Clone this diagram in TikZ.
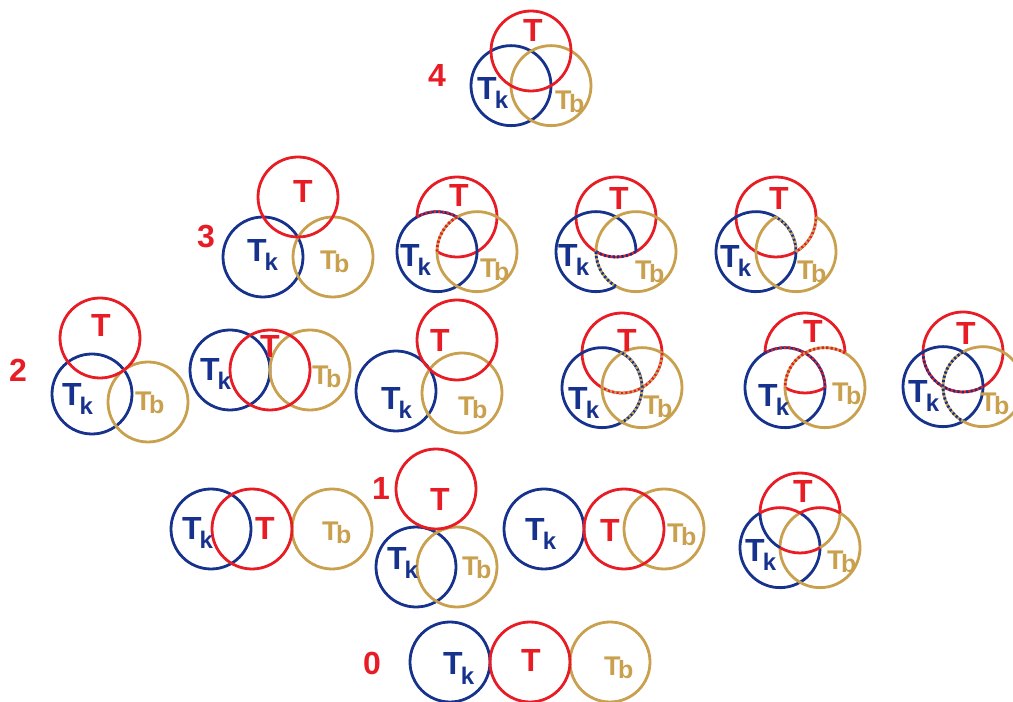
\documentclass[tikz,border=0pt]{standalone}
\usepackage{fontspec}
\setmainfont{Liberation Sans}
\definecolor{tred}{RGB}{232,28,36}
\definecolor{tblue}{RGB}{22,50,140}
\definecolor{tgold}{RGB}{200,160,78}
\newcommand{\rr}{40}
\newcommand{\labT}{T}
\newcommand{\labK}{T\kern-2pt\raisebox{-9pt}{\fontsize{24}{24}\selectfont k}}
\newcommand{\labB}{{\fontsize{27}{27}\selectfont T\kern-2.5pt\raisebox{-3pt}{\fontsize{25}{25}\selectfont b}}}
% arc round centre #1 from angle #2 to #3
\newcommand{\carc}[4]{\draw[ring,#4] ([shift={(#2:\rr)}]#1) arc[start angle=#2, end angle=#3, radius=\rr];}
% two-coloured dotted arc
\newcommand{\darc}[5]{\carc{#1}{#2}{#3}{#4}\carc{#1}{#2}{#3}{#5,dash pattern=on 2.2pt off 2.2pt}}
% three circles whose centres are \rr apart
\newcommand{\triple}[3]{\coordinate (#1t) at (#2,#3);
  \coordinate (#1k) at ([shift={(240:\rr)}]#1t);
  \coordinate (#1b) at ([shift={(300:\rr)}]#1t);}
\tikzset{
  ring/.style={line width=2.8pt},
  lab/.style={inner sep=0pt, font=\fontsize{32}{32}\selectfont\bfseries},
  labt/.style={lab, text=tred, anchor=south},
  labk/.style={lab, text=tblue, anchor=base west},
  labb/.style={lab, text=tgold, anchor=base west},
  count/.style={lab, text=tred},
}
\begin{document}
\begin{tikzpicture}[x=1pt, y=1pt]
	\useasboundingbox (0,0) rectangle (1013,702);
	% level 4
	\triple{d4}{531}{651}
	\draw[ring,tblue] (d4k) circle[radius=\rr];
	\draw[ring,tgold] (d4b) circle[radius=\rr];
	\draw[ring,tred] (d4t) circle[radius=\rr];
	\node[count] (n4) at (437,627) {4};
	\node[labt] (d4tl) at (533,660) {\labT};
	\node[labk] (d4kl) at (477,602) {\labK};
	\node[labb] (d4bl) at (555,592) {\labB};
	% level 3
	\node[count] (n3) at (206,465) {3};
	\coordinate (d3at) at (298,505);
	\coordinate (d3ak) at (263,445);
	\coordinate (d3ab) at (333,445);
	\draw[ring,tblue] (d3ak) circle[radius=\rr];
	\draw[ring,tgold] (d3ab) circle[radius=\rr];
	\draw[ring,tred] (d3at) circle[radius=\rr];
	\node[labt] (d3atl) at (303,499) {\labT};
	\node[labk] (d3akl) at (247,440) {\labK};
	\node[labb] (d3abl) at (320,432) {\labB};

	\triple{d3b}{457}{485}
	\carc{d3bt}{0}{180}{tred}
	\carc{d3bt}{240}{360}{tred}
	\carc{d3bk}{120}{300}{tblue}
	\carc{d3bk}{-60}{60}{tblue}
	\carc{d3bb}{180}{480}{tgold}
	\darc{d3bk}{60}{120}{tblue}{tred}
	\darc{d3bb}{120}{180}{tgold}{tred}
	\node[labt] (d3btl) at (459,495) {\labT};
	\node[labk] (d3bkl) at (400,435) {\labK};
	\node[labb] (d3bbl) at (480,424) {\labB};

	\triple{d3c}{616}{485}
	\carc{d3ct}{-60}{240}{tred}
	\carc{d3ck}{0}{300}{tblue}
	\carc{d3cb}{240}{540}{tgold}
	\darc{d3ct}{240}{300}{tred}{tblue}
	\darc{d3cb}{180}{240}{tgold}{tblue}
	\node[labt] (d3ctl) at (619,492) {\labT};
	\node[labk] (d3ckl) at (558,435) {\labK};
	\node[labb] (d3cbl) at (635,422) {\labB};

	\triple{d3d}{776}{485}
	\carc{d3dt}{0}{300}{tred}
	\carc{d3dk}{60}{360}{tblue}
	\carc{d3db}{120}{420}{tgold}
	\darc{d3dk}{0}{60}{tblue}{tgold}
	\darc{d3dt}{300}{360}{tred}{tgold}
	\node[labt] (d3dtl) at (779,492) {\labT};
	\node[labk] (d3dkl) at (720,434) {\labK};
	\node[labb] (d3dbl) at (797,422) {\labB};
	% level 2
	\node[count] (n2) at (18,332) {2};
	\coordinate (d2at) at (100,364);
	\coordinate (d2ak) at (92,308);
	\coordinate (d2ab) at (148,300);
	\draw[ring,tblue] (d2ak) circle[radius=\rr];
	\draw[ring,tgold] (d2ab) circle[radius=\rr];
	\draw[ring,tred] (d2at) circle[radius=\rr];
	\node[labt] (d2atl) at (101,365) {\labT};
	\node[labk] (d2akl) at (62,296) {\labK};
	\node[labb] (d2abl) at (135,291) {\labB};

	\coordinate (d2bk) at (230,332);
	\coordinate (d2bt) at (270,332);
	\coordinate (d2bb) at (310,332);
	\draw[ring,tblue] (d2bk) circle[radius=\rr];
	\draw[ring,tgold] (d2bb) circle[radius=\rr];
	\draw[ring,tred] (d2bt) circle[radius=\rr];
	\node[labt] (d2btl) at (270,344) {\labT};
	\node[labk] (d2bkl) at (200,321) {\labK};
	\node[labb] (d2bbl) at (312,317) {\labB};

	\coordinate (d2ct) at (457,362);
	\coordinate (d2ck) at (396,311);
	\coordinate (d2cb) at (462,309);
	\draw[ring,tblue] (d2ck) circle[radius=\rr];
	\draw[ring,tgold] (d2cb) circle[radius=\rr];
	\draw[ring,tred] (d2ct) circle[radius=\rr];
	\node[labt] (d2ctl) at (440,350) {\labT};
	\node[labk] (d2ckl) at (381,292) {\labK};
	\node[labb] (d2cbl) at (458,286) {\labB};

	\triple{d2d}{622}{349}
	\carc{d2dt}{0}{240}{tred}
	\carc{d2dk}{60}{300}{tblue}
	\draw[ring,tgold] (d2db) circle[radius=\rr];
	\darc{d2dt}{240}{360}{tred}{tgold}
	\darc{d2dk}{-60}{60}{tblue}{tgold}
	\node[labt] (d2dtl) at (627,350) {\labT};
	\node[labk] (d2dkl) at (568,292) {\labK};
	\node[labb] (d2dbl) at (643,287) {\labB};

	\triple{d2e}{805}{349}
	\carc{d2et}{0}{180}{tred}
	\carc{d2et}{240}{300}{tred}
	\carc{d2ek}{120}{360}{tblue}
	\carc{d2eb}{180}{420}{tgold}
	\darc{d2ek}{0}{120}{tblue}{tred}
	\darc{d2eb}{60}{180}{tgold}{tred}
	\node[labt] (d2etl) at (813,359) {\labT};
	\node[labk] (d2ekl) at (758,295) {\labK};
	\node[labb] (d2ebl) at (832,300) {\labB};

	\triple{d2f}{963}{350}
	\carc{d2ft}{-60}{180}{tred}
	\draw[ring,tblue] (d2fk) circle[radius=\rr];
	\carc{d2fb}{240}{480}{tgold}
	\darc{d2ft}{180}{300}{tred}{tblue}
	\darc{d2fb}{120}{240}{tgold}{tblue}
	\node[labt] (d2ftl) at (966,357) {\labT};
	\node[labk] (d2fkl) at (908,299) {\labK};
	\node[labb] (d2fbl) at (980,290) {\labB};
	% level 1
	\node[count] (n1) at (381,214) {1};
	\coordinate (d1ak) at (211,173);
	\coordinate (d1at) at (252,173);
	\coordinate (d1ab) at (332,173);
	\draw[ring,tblue] (d1ak) circle[radius=\rr];
	\draw[ring,tgold] (d1ab) circle[radius=\rr];
	\draw[ring,tred] (d1at) circle[radius=\rr];
	\node[labk] (d1akl) at (182,162) {\labK};
	\node[labt] (d1atl) at (265,162) {\labT};
	\node[labb] (d1abl) at (322,161) {\labB};

	\coordinate (d1bt) at (436,213);
	\coordinate (d1bk) at (416,135);
	\coordinate (d1bb) at (457,135);
	\draw[ring,tblue] (d1bk) circle[radius=\rr];
	\draw[ring,tgold] (d1bb) circle[radius=\rr];
	\draw[ring,tred] (d1bt) circle[radius=\rr];
	\node[labt] (d1btl) at (440,191) {\labT};
	\node[labk] (d1bkl) at (387,132) {\labK};
	\node[labb] (d1bbl) at (462,126) {\labB};

	\coordinate (d1ck) at (544,173);
	\coordinate (d1ct) at (624,173);
	\coordinate (d1cb) at (664,173);
	\draw[ring,tblue] (d1ck) circle[radius=\rr];
	\draw[ring,tgold] (d1cb) circle[radius=\rr];
	\draw[ring,tred] (d1ct) circle[radius=\rr];
	\node[labk] (d1ckl) at (525,161) {\labK};
	\node[labt] (d1ctl) at (610,160) {\labT};
	\node[labb] (d1cbl) at (667,159) {\labB};

	\triple{d1d}{800}{189}
	\carc{d1dk}{120}{420}{tblue}
	\carc{d1db}{120}{420}{tgold}
	\carc{d1dt}{180}{240}{tblue}
	\carc{d1dt}{300}{360}{tgold}
	\carc{d1dt}{0}{180}{tred}
	\carc{d1dt}{240}{300}{tred}
	\carc{d1dk}{60}{120}{tred}
	\carc{d1db}{60}{120}{tred}
	\node[labt] (d1dtl) at (803,199) {\labT};
	\node[labk] (d1dkl) at (745,140) {\labK};
	\node[labb] (d1dbl) at (827,132) {\labB};
	% level 0
	\node[count] (n0) at (372,39) {0};
	\coordinate (d0k) at (450,40);
	\coordinate (d0t) at (530,40);
	\coordinate (d0b) at (610,40);
	\draw[ring,tblue] (d0k) circle[radius=\rr];
	\draw[ring,tgold] (d0b) circle[radius=\rr];
	\draw[ring,tred] (d0t) circle[radius=\rr];
	\node[labk] (d0kl) at (443,27) {\labK};
	\node[labt] (d0tl) at (531,30) {\labT};
	\node[labb] (d0bl) at (604,26) {\labB};
\end{tikzpicture}
\end{document}
